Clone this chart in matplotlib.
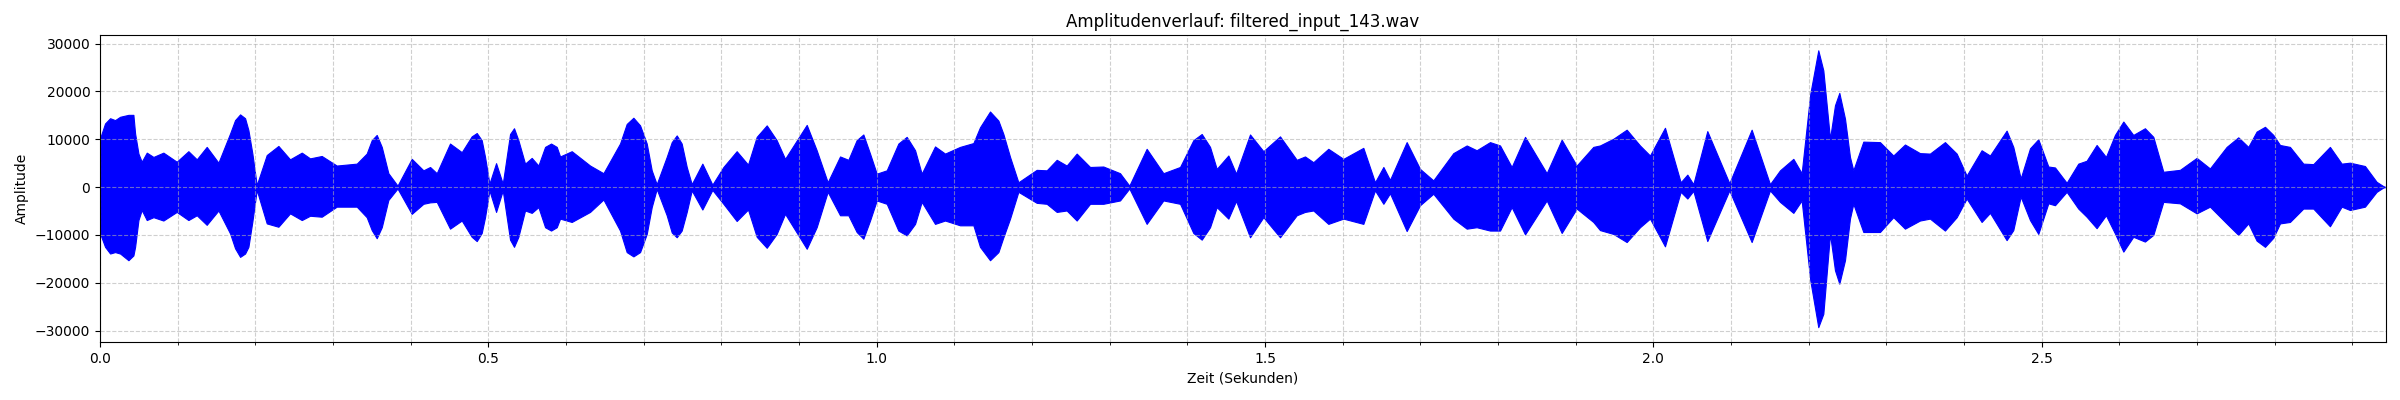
import numpy as np
import matplotlib
matplotlib.use('Agg')
from matplotlib import pyplot as plt
from matplotlib.ticker import MultipleLocator

# envelope of the waveform (time in s, amplitude)
zeit = [0.0000, 0.0064, 0.0129, 0.0193, 0.0258, 0.0365, 0.0429, 0.0451, 0.0494, 0.0536,
        0.0601, 0.0687, 0.0815, 0.0987, 0.1137, 0.1245, 0.1373, 0.1524, 0.1674, 0.1803,
        0.1910, 0.2017, 0.2146, 0.2296, 0.2446, 0.2597, 0.2704, 0.2854, 0.3047, 0.3305,
        0.3433, 0.3562, 0.3712, 0.3830, 0.4013, 0.4163, 0.4249, 0.4335, 0.4506, 0.4657,
        0.4850, 0.4957, 0.5013, 0.5099, 0.5185, 0.5330, 0.5472, 0.5558, 0.5644, 0.5807,
        0.5923, 0.6073, 0.6309, 0.6481, 0.6695, 0.6867, 0.7039, 0.7167, 0.7296, 0.7425,
        0.7554, 0.7618, 0.7755, 0.7884, 0.8026, 0.8197, 0.8343, 0.8584, 0.8820, 0.9099,
        0.9227, 0.9369, 0.9528, 0.9635, 0.9828, 1.0000, 1.0129, 1.0386, 1.0579, 1.0751,
        1.0880, 1.1073, 1.1245, 1.1459, 1.1631, 1.1824, 1.2060, 1.2189, 1.2318, 1.2446,
        1.2575, 1.2747, 1.2918, 1.3133, 1.3253, 1.3476, 1.3691, 1.3906, 1.4185, 1.4378,
        1.4528, 1.4627, 1.4807, 1.4979, 1.5193, 1.5408, 1.5515, 1.5622, 1.5815, 1.6009,
        1.6266, 1.6416, 1.6524, 1.6609, 1.6824, 1.6996, 1.7167, 1.7425, 1.7597, 1.7725,
        1.7897, 1.8026, 1.8176, 1.8348, 1.8627, 1.8820, 1.9013, 1.9227, 1.9313, 1.9485,
        1.9657, 1.9828, 1.9957, 2.0150, 2.0352, 2.0438, 2.0515, 2.0695, 2.0979, 2.1266,
        2.1502, 2.1631, 2.1803, 2.1910, 2.2124, 2.2275, 2.2395, 2.2575, 2.2704, 2.2918,
        2.3090, 2.3240, 2.3433, 2.3562, 2.3755, 2.3906, 2.4034, 2.4227, 2.4335, 2.4549,
        2.4635, 2.4730, 2.4850, 2.4957, 2.5086, 2.5172, 2.5322, 2.5472, 2.5579, 2.5708,
        2.5828, 2.5944, 2.6052, 2.6180, 2.6330, 2.6438, 2.6567, 2.6781, 2.6996, 2.7167,
        2.7382, 2.7532, 2.7661, 2.7876, 2.8069, 2.8197, 2.8369, 2.8498, 2.8712, 2.8863,
        2.8970, 2.9163, 2.9313, 2.9399, 2.9429]

oben = [10200, 13300, 14400, 14000, 14700, 15100, 15100, 11200, 7000, 5300,
        7200, 6300, 7200, 5300, 7500, 5800, 8400, 5100, 11200, 15200,
        11900, 400, 6700, 8600, 5800, 7200, 6000, 6500, 4500, 4900,
        7000, 10900, 2900, 300, 5900, 3500, 4200, 2900, 9100, 7300,
        11300, 6300, 700, 5000, 700, 12300, 4900, 6100, 4500, 9100,
        6400, 7500, 4500, 2900, 9100, 14500, 9100, 600, 6300, 10800,
        4200, 600, 4900, 500, 4200, 7500, 4700, 12900, 5900, 13000,
        7700, 1000, 6400, 5700, 11000, 2800, 3500, 10500, 2800, 8500,
        7000, 8400, 9200, 15800, 11100, 1000, 3600, 3500, 5700, 4500,
        7000, 4200, 4300, 2900, 300, 8000, 2900, 4200, 11100, 3800,
        6600, 2800, 11000, 7500, 10600, 5700, 6400, 5200, 8000, 5900,
        8200, 1000, 4200, 1500, 9400, 3800, 1400, 7100, 8700, 7700,
        9400, 8700, 4200, 10500, 2900, 9900, 4500, 8400, 8700, 10100,
        12000, 8700, 6600, 12400, 1000, 2600, 600, 11700, 800, 12000,
        600, 3500, 5900, 2900, 28600, 10100, 19700, 3500, 9500, 9400,
        6600, 8900, 7100, 7000, 9400, 7000, 2400, 7700, 6600, 11800,
        8400, 1800, 8100, 10000, 4300, 4100, 900, 4900, 5500, 8800,
        6300, 10900, 13700, 10900, 12300, 10500, 3200, 3600, 6100, 3900,
        8400, 10400, 8400, 12600, 8800, 8400, 4900, 4800, 8400, 4900,
        5100, 4400, 1100, 200, 0]

unten = [-9700, -12500, -13900, -13600, -13900, -15300, -14300, -12500, -6900, -4800,
         -6900, -6300, -7000, -5200, -6900, -5900, -7900, -4900, -9700, -14600,
         -12500, -600, -7600, -8300, -5500, -6900, -6000, -6200, -4100, -4100,
         -6300, -10700, -2700, -300, -5600, -3500, -3200, -3100, -8700, -7000,
         -11300, -6300, -700, -5200, -700, -12500, -4900, -5400, -4200, -9100,
         -6600, -7300, -5200, -2600, -9100, -14500, -9800, -400, -5900, -10500,
         -5200, -700, -4700, -600, -3500, -7100, -4700, -12700, -5600, -12900,
         -8400, -1000, -5900, -5900, -10800, -2800, -3500, -10100, -3100, -7700,
         -7000, -8000, -8000, -15300, -10500, -1000, -3300, -3500, -5200, -4900,
         -7000, -3500, -3500, -2800, -300, -7700, -2800, -3500, -11000, -4200,
         -6600, -2900, -10500, -6300, -10500, -5900, -5200, -4900, -7700, -6600,
         -7700, -700, -3500, -1300, -9200, -3800, -1400, -6600, -8700, -8400,
         -9100, -9100, -4200, -9900, -2800, -9600, -4500, -7300, -9000, -9800,
         -11500, -8400, -6600, -12400, -1000, -2400, -800, -11300, -700, -11500,
         -700, -3100, -5400, -2800, -29300, -9800, -20200, -3500, -9400, -9400,
         -6300, -8700, -7000, -6600, -9100, -6300, -2400, -7300, -5400, -11100,
         -9000, -2000, -6900, -9800, -3400, -3800, -1000, -4500, -6200, -8600,
         -5900, -9700, -13500, -10400, -11400, -10000, -3100, -3400, -5500, -4100,
         -7600, -10000, -7600, -12500, -7600, -7300, -4500, -4500, -8200, -4100,
         -4800, -4100, -1000, -100, 0]

# extra shoulder points on the bigger bursts
zeit_zus = [0.1738, 0.1867, 0.1961, 0.3498, 0.3627, 0.4785, 0.4914, 0.5279, 0.5386,
            0.5730, 0.5880, 0.6781, 0.6953, 0.7103, 0.7361, 0.7489, 0.8455, 0.8712,
            0.9742, 0.9914, 1.0279, 1.0494, 1.1330, 1.1567, 1.1717, 1.4077, 1.4292,
            2.2021, 2.2189, 2.2339, 2.2468, 2.2532, 2.7768, 2.7983]
oben_zus = [14000, 14400, 7000, 9800, 8400, 10600, 9800, 11100, 9800,
            8400, 8400, 13200, 12900, 3500, 9400, 9100, 10500, 9800,
            9800, 7000, 9100, 7700, 12500, 13900, 6300, 9800, 8400,
            19500, 24400, 17100, 14300, 6300, 11600, 10900]
unten_zus = [-12800, -13900, -7200, -9000, -8400, -10400, -9600, -11000, -10400,
             -8400, -8400, -13600, -13600, -4200, -9500, -9100, -10400, -9800,
             -9400, -7000, -9100, -7700, -12500, -13600, -6600, -9600, -8400,
             -19500, -26500, -17400, -15300, -6600, -11200, -10600]

t = np.array(zeit + zeit_zus)
o = np.array(oben + oben_zus)
u = np.array(unten + unten_zus)
idx = np.argsort(t)
t, o, u = t[idx], o[idx], u[idx]

fig, ax = plt.subplots(figsize=(24, 4), dpi=100)
ax.fill_between(t, u, o, color='blue', linewidth=0.8, edgecolor='blue')

ax.set_xlim(t[0], t[-1])
ax.set_ylim(-32400, 31800)
ax.xaxis.set_minor_locator(MultipleLocator(0.1))
ax.grid(True, which='both', linestyle='--', alpha=0.6)
ax.set_title('Amplitudenverlauf: filtered_input_143.wav')
ax.set_xlabel('Zeit (Sekunden)')
ax.set_ylabel('Amplitude')

plt.subplots_adjust(left=0.0417, right=0.994, top=0.9125, bottom=0.145)
plt.savefig('out.png')
